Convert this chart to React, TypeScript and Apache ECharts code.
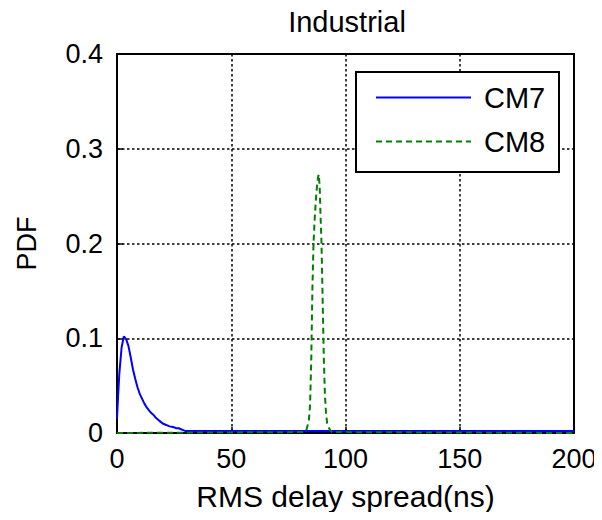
import React, { useEffect, useRef } from "react";
import * as echarts from "echarts";

const titleText = "Industrial";
const xName = "RMS delay spread(ns)";
const yName = "PDF";
const seriesNames = ["CM7", "CM8"];

const cm7X = [0, 0.5, 1, 2, 3, 4, 5, 6, 7, 8, 9, 10, 11, 12, 13, 14, 15, 16, 17, 18, 19, 20, 21, 22, 23, 24, 25, 26, 27, 28, 29, 30, 200];
const cm7Y = [0.015, 0.04, 0.062, 0.09, 0.102, 0.099, 0.092, 0.08, 0.067, 0.057, 0.048, 0.041, 0.036, 0.031, 0.027, 0.024, 0.021, 0.019, 0.016, 0.014, 0.012, 0.01, 0.009, 0.008, 0.007, 0.0065, 0.006, 0.005, 0.005, 0.004, 0.003, 0.002, 0.002];

const cm8X = [0, 82, 83, 84, 84.5, 85, 85.5, 86, 86.5, 87, 87.5, 88, 88.3, 88.7, 89, 89.5, 90, 90.5, 91, 91.5, 92, 93, 94, 200];
const cm8Y = [0, 0.001, 0.004, 0.014, 0.03, 0.075, 0.15, 0.2, 0.225, 0.245, 0.26, 0.27, 0.273, 0.26, 0.235, 0.2, 0.14, 0.08, 0.04, 0.02, 0.01, 0.004, 0.001, 0];

const FONT = "Liberation Sans, Arial, sans-serif";

export default function App() {
  const ref = useRef<HTMLDivElement>(null);
  useEffect(() => {
    if (!ref.current) return;
    const chart = echarts.init(ref.current, undefined, { renderer: "svg" });
    const gridLeft = 117, gridTop = 54, gridRight = 28, gridBottom = 87;
    chart.setOption({
      animation: false,
      backgroundColor: "#ffffff",
      textStyle: { fontFamily: FONT },
      title: {
        text: titleText,
        left: 342,
        top: 2,
        textAlign: "center",
        textStyle: { fontSize: 29, fontWeight: "normal", color: "#000", fontFamily: FONT },
      },
      grid: {
        left: gridLeft, top: gridTop, right: gridRight, bottom: gridBottom,
        show: true, borderColor: "#000", borderWidth: 2, backgroundColor: "#fff",
      },
      legend: {
        left: 375,
        top: 83,
        z: 20,
        padding: 0,
        orient: "vertical",
        itemWidth: 95,
        itemHeight: 14,
        itemGap: 15,
        itemStyle: { color: "rgba(0,0,0,0)", opacity: 0, borderWidth: 0 },
        textStyle: { fontSize: 29, color: "#000", fontFamily: FONT, padding: [0, 0, 0, 8] },
        data: seriesNames.map((n) => ({ name: n })),
      },
      graphic: [
        {
          type: "rect",
          shape: { x: 356, y: 72, width: 203, height: 100 },
          style: { fill: "#fff", stroke: "#000", lineWidth: 2 },
          z: 5,
        },
      ],
      xAxis: {
        type: "value",
        min: 0, max: 200, interval: 50,
        name: xName,
        nameLocation: "middle",
        nameGap: 48,
        nameTextStyle: { fontSize: 30, color: "#000", fontFamily: FONT },
        axisLine: { show: true, lineStyle: { color: "#000", width: 2 } },
        axisTick: { show: true, inside: true, length: 6, lineStyle: { color: "#000", width: 1.5 } },
        axisLabel: { fontSize: 27, color: "#000", margin: 12, fontFamily: FONT },
        splitLine: { show: true, lineStyle: { color: "#000", type: [2.5, 2.5], width: 1.5 } },
      },
      yAxis: {
        type: "value",
        min: 0, max: 0.4, interval: 0.1,
        name: yName,
        nameLocation: "middle",
        nameGap: 77,
        nameTextStyle: { fontSize: 27, color: "#000", fontFamily: FONT },
        axisLine: { show: true, lineStyle: { color: "#000", width: 2 } },
        axisTick: { show: true, inside: true, length: 6, lineStyle: { color: "#000", width: 1.5 } },
        axisLabel: { fontSize: 27, color: "#000", margin: 14, fontFamily: FONT, formatter: (v: number) => String(Math.round(v * 10) / 10) },
        splitLine: { show: true, lineStyle: { color: "#000", type: [2.5, 2.5], width: 1.5 } },
      },
      series: [
        {
          name: seriesNames[0],
          type: "line",
          data: cm7X.map((x, i) => [x, cm7Y[i]]),
          showSymbol: false,
          symbol: "none",
          lineStyle: { color: "#0000ff", width: 2 },
          itemStyle: { color: "#0000ff" },
          z: 3,
        },
        {
          name: seriesNames[1],
          type: "line",
          data: cm8X.map((x, i) => [x, cm8Y[i]]),
          showSymbol: false,
          symbol: "none",
          lineStyle: { color: "#008000", width: 2, type: [6, 4] },
          itemStyle: { color: "#008000" },
          z: 4,
        },
      ],
    });
    return () => chart.dispose();
  }, []);
  return <div ref={ref} style={{ width: 602, height: 520, margin: -8 }} />;
}
